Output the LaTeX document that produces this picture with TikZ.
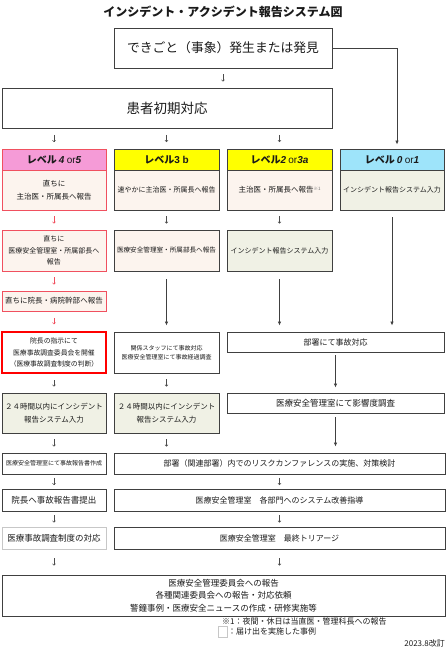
\documentclass[tikz,border=0pt]{standalone}
\usepackage{fontspec}
\setmainfont{Noto Sans CJK JP}
\newfontfamily\lat{Liberation Sans}
\usetikzlibrary{arrows.meta}
\definecolor{bd}{HTML}{404040}
\definecolor{redbd}{HTML}{F0505F}
\definecolor{pinkh}{HTML}{F59BD7}
\definecolor{yelh}{HTML}{FFFF00}
\definecolor{blueh}{HTML}{9EE4FA}
\definecolor{beige}{HTML}{FCF4EE}
\definecolor{pale}{HTML}{F0F1E5}
\definecolor{txt}{HTML}{1A1A1A}
\newcommand\fs[1]{\fontsize{#1}{#1}\selectfont\baselineskip=1.45\baselineskip}
\newcommand\fsl[1]{\fontsize{#1}{#1}\selectfont\baselineskip=1.65\baselineskip}
\newcommand\bx[7]{\node[#1, minimum width={(#5-#3)*1pt}, minimum height={(#6-#4)*1pt}] (#2) at ({(#3+#5)/2},{(#4+#6)/2}) {#7};}
\newcommand\lv[1]{{\lat\bfseries\itshape #1}}
\begin{document}
\begin{tikzpicture}[x=1pt,y=-1pt,
  every node/.style={inner sep=0pt, align=center, text=txt},
  box/.style={draw=bd, line width=0.9pt, fill=white},
  rbox/.style={draw=redbd, line width=0.9pt, fill=beige},
  tick/.style={draw=black!70, line width=0.5pt, -{To[length=2pt,width=3.2pt]}, shorten <=#1, shorten >=#1},
  rtick/.style={tick=#1, draw=redbd},
  long/.style={draw=black!75, line width=0.8pt, -{Latex[length=4pt,width=3.5pt]}}]
\useasboundingbox (0,0) rectangle (446,650);
\node[font=\fs{12}\bfseries] (title) at (223,12) {インシデント・アクシデント報告システム図};
\bx{box, font=\fs{12.8}}{b1}{114}{28}{332}{68}{できごと（事象）発生または発見}
\bx{box, font=\fs{13.5}}{b2}{2}{88}{332}{128}{患者初期対応}
% level headers
\bx{rbox, fill=pinkh, font=\fs{10}}{l4h}{2}{149}{106}{170}{{\bfseries レベル} \lv{4} {\lat or}\lv{5}}
\bx{box, fill=yelh, font=\fs{10}}{l3h}{114}{149}{219}{170}{{\bfseries レベル}{\lat\bfseries 3 b}}
\bx{box, fill=yelh, font=\fs{10}}{l2h}{227}{149}{332}{170}{{\bfseries レベル}\lv{2} {\lat or}\lv{3a}}
\bx{box, fill=blueh, font=\fs{10}}{l0h}{340}{149}{444}{170}{{\bfseries レベル} \lv{0} {\lat or}\lv{1}}
% level bodies
\bx{rbox, font=\fsl{7.5}}{l4}{2}{170}{106}{210}{直ちに\\主治医・所属長へ報告}
\bx{box, fill=beige, font=\fs{7}}{l3}{114}{170}{219}{210}{速やかに主治医・所属長へ報告}
\bx{box, fill=beige, font=\fs{7.5}}{l2}{227}{170}{332}{210}{主治医・所属長へ報告\raisebox{2.5pt}{\fontsize{4.5}{5}\selectfont\color{black!55}※1}}
\bx{box, fill=pale, font=\fs{7}}{l0}{340}{170}{444}{210}{インシデント報告システム入力}
% row 2
\bx{rbox, font=\fsl{7}}{l4r2}{2}{230}{106}{271}{直ちに\\医療安全管理室・所属部長へ\\報告}
\bx{box, fill=beige, font=\fs{6.6}}{l3r2}{114}{230}{219}{271}{医療安全管理室・所属部長へ報告}
\bx{box, fill=pale, font=\fs{7}}{l2r2}{227}{230}{332}{271}{インシデント報告システム入力}
% row 3
\bx{rbox, font=\fs{7.5}}{l4r3}{2}{291}{106}{311}{直ちに院長・病院幹部へ報告}
\bx{box, draw=red, line width=2.2pt, font=\fsl{6.8}}{redb}{2}{332}{106}{373}{院長の指示にて\\医療事故調査委員会を開催\\（医療事故調査制度の判断）}
\bx{box, font=\fs{6}}{kankei}{114}{332}{219}{373}{関係スタッフにて事故対応\\医療安全管理室にて事故経過調査}
\bx{box, font=\fs{8}}{busho}{227}{332}{444}{352}{部署にて事故対応}
\bx{box, font=\fs{8.5}}{eikyo}{227}{393}{444}{413}{医療安全管理室にて影響度調査}
\bx{box, fill=pale, font=\fsl{7.5}}{h24a}{2}{393}{106}{433}{２４時間以内にインシデント\\報告システム入力}
\bx{box, fill=pale, font=\fsl{7.5}}{h24b}{114}{393}{219}{433}{２４時間以内にインシデント\\報告システム入力}
% bottom rows
\bx{box, font=\fs{6}}{jiko}{2}{453}{106}{474}{医療安全管理室にて事故報告書作成}
\bx{box, font=\fs{8}}{risk}{114}{453}{445}{474}{部署（関連部署）内でのリスクカンファレンスの実施、対策検討}
\bx{box, font=\fs{8.5}}{incho}{2}{489}{106}{511}{院長へ事故報告書提出}
\bx{box, font=\fs{8}}{kaizen}{114}{489}{445}{511}{医療安全管理室　各部門へのシステム改善指導}
\bx{box, draw=black!22, font=\fs{8.5}}{taio}{2}{527}{106}{549}{医療事故調査制度の対応}
\bx{box, font=\fs{8}}{triage}{114}{527}{445}{549}{医療安全管理室　最終トリアージ}
\bx{box, font=\fs{8.5}}{final}{2}{575}{445}{616}{医療安全管理委員会への報告\\各種関連委員会への報告・対応依頼\\警鐘事例・医療安全ニュースの作成・研修実施等}
% notes
\node[anchor=west, font=\fs{8}] (note1) at (222,621) {※1：夜間・休日は当直医・管理科長への報告};
\bx{draw=black!22, line width=0.6pt, fill=white}{legbox}{218}{626}{227}{637}{}
\node[anchor=west, font=\fs{8}] (leg) at (228,631.5) {：届け出を実施した事例};
\node[anchor=east, font=\fs{8}] (date) at (445,643) {2023.8改訂};
% short ticks
\draw[tick=6] (b1.south) -- (b1.south |- b2.north);
\draw[tick=6.5] (b2.south -| l4h.north) -- (l4h.north);
\draw[tick=6.5] (b2.south -| l3h.north) -- (l3h.north);
\draw[tick=6.5] (b2.south -| l2h.north) -- (l2h.north);
\draw[rtick=6] (l4.south) -- (l4r2.north);
\draw[tick=6] (l3.south) -- (l3r2.north);
\draw[tick=6] (l2.south) -- (l2r2.north);
\draw[rtick=6] (l4r2.south) -- (l4r3.north);
\draw[rtick=6.5] (l4r3.south) -- (redb.north);
\draw[tick=6] (redb.south) -- (h24a.north);
\draw[tick=6] (kankei.south) -- (h24b.north);
\draw[tick=6] (h24a.south) -- (jiko.north);
\draw[tick=6] (h24b.south) -- (h24b.south |- risk.north);
\draw[tick=3.5] (jiko.south) -- (incho.north);
\draw[tick=3.5] (risk.south) -- (kaizen.north);
\draw[tick=4] (incho.south) -- (taio.north);
\draw[tick=4] (kaizen.south) -- (triage.north);
\draw[tick=9] (taio.south) -- (taio.south |- final.north);
\draw[tick=9] (triage.south) -- (triage.south |- final.north);
% long arrows
\draw[long, shorten >=4pt] (b1.east) -| ([xshift=5pt]l0h.north);
\draw[long, shorten <=8pt, shorten >=6pt] (l3r2.south) -- (kankei.north);
\draw[long, shorten <=8pt, shorten >=6pt] (l2r2.south) -- (l2r2.south |- busho.north);
\draw[long, shorten <=7pt, shorten >=6pt] (l0.south) -- (l0.south |- busho.north);
\draw[long, shorten <=3pt, shorten >=5pt] (busho.south) -- (eikyo.north);
\draw[long, shorten <=4pt, shorten >=6pt] (eikyo.south) -- (eikyo.south |- risk.north);
\end{tikzpicture}
\end{document}
